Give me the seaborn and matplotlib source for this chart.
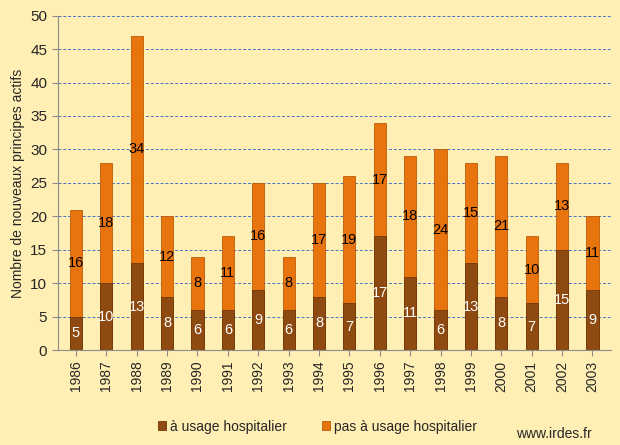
import pandas as pd
import seaborn as sns
import matplotlib.pyplot as plt

years = [str(y) for y in range(1986, 2004)]
hospital = [5, 10, 13, 8, 6, 6, 9, 6, 8, 7, 17, 11, 6, 13, 8, 7, 15, 9]
non_hospital = [16, 18, 34, 12, 8, 11, 16, 8, 17, 19, 17, 18, 24, 15, 21, 10, 13, 11]

df = pd.DataFrame({"year": years, "hosp": hospital, "nonhosp": non_hospital})
df["total"] = df.hosp + df.nonhosp

bg = "#FFEFB4"
orange = "#E8740E"
brown = "#8E4A10"

sns.set_style("white")
plt.rcParams["font.family"] = ["Liberation Sans", "DejaVu Sans"]

fig, ax = plt.subplots(figsize=(6.2, 4.45), dpi=100)
fig.patch.set_facecolor(bg)
ax.set_facecolor(bg)

sns.barplot(df, x="year", y="total", color=orange, width=0.4, saturation=1,
            edgecolor="#C05A08", linewidth=0.6, ax=ax, label="pas à usage hospitalier")
sns.barplot(df, x="year", y="hosp", color=brown, width=0.4, saturation=1,
            edgecolor="#6E3808", linewidth=0.6, ax=ax, label="à usage hospitalier")

for i, row in df.iterrows():
    ax.text(i, row.hosp / 2, str(row.hosp), ha="center", va="center",
            color="white", fontsize=10.5)
    ax.text(i, row.hosp + row.nonhosp / 2, str(row.nonhosp), ha="center",
            va="center", color="black", fontsize=10.5)

ax.set_ylim(0, 50)
ax.set_yticks(range(0, 51, 5))
ax.set_xlim(-0.6, len(years) - 0.4)
ax.yaxis.grid(True, linestyle=(0, (3, 2)), color="#4472C4", linewidth=0.7)
ax.set_axisbelow(True)
for s in ["top", "right"]:
    ax.spines[s].set_visible(False)
for s in ["left", "bottom"]:
    ax.spines[s].set_color("#8C8C8C")
ax.tick_params(axis="x", rotation=90, labelsize=10, length=4, color="#8C8C8C", direction="out", bottom=True)
ax.tick_params(axis="y", labelsize=11, length=4, color="#8C8C8C", direction="out", left=True)
ax.set_xlabel("")
ax.set_ylabel("Nombre de nouveaux principes actifs", fontsize=10)

handles, labels = ax.get_legend_handles_labels()
ax.legend(handles[::-1], labels[::-1], loc="upper center", bbox_to_anchor=(0.47, -0.17),
          ncol=2, frameon=False, fontsize=10, handlelength=0.6, handleheight=0.6,
          handletextpad=0.3, columnspacing=2.5)

fig.text(0.955, 0.01, "www.irdes.fr", ha="right", va="bottom", fontsize=10)

fig.subplots_adjust(left=0.093, right=0.985, top=0.965, bottom=0.213)
fig.savefig("out.png", facecolor=bg)
